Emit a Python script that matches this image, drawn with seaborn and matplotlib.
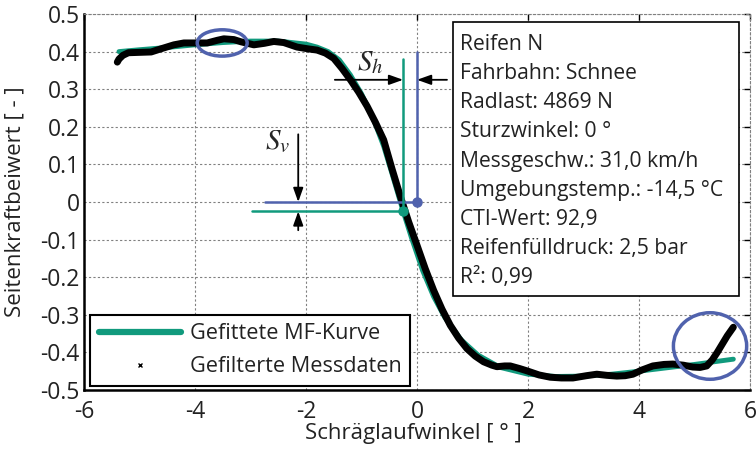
import numpy as np
import pandas as pd
import matplotlib
matplotlib.use("Agg")
import matplotlib.pyplot as plt
from matplotlib.patches import Ellipse, Rectangle
from matplotlib.lines import Line2D
import seaborn as sns

# ---- data ----
mf_x = [-5.37, -5.0, -4.5, -4.0, -3.5, -3.0, -2.5, -2.0, -1.8, -1.6, -1.4, -1.2, -1.0, -0.8, -0.6,
        -0.45, -0.25, -0.1, 0.1, 0.3, 0.5, 0.8, 1.1, 1.5, 2.0, 2.5, 3.0, 3.5, 4.0, 4.5, 5.0, 5.4, 5.7]
mf_y = [0.400, 0.405, 0.411, 0.418, 0.424, 0.428, 0.428, 0.420, 0.412, 0.400, 0.378, 0.338, 0.288,
        0.226, 0.148, 0.075, -0.025, -0.095, -0.182, -0.252, -0.307, -0.367, -0.407, -0.440, -0.458,
        -0.464, -0.463, -0.458, -0.450, -0.441, -0.432, -0.424, -0.418]

meas_x = [-5.40, -5.37, -5.30, -5.20, -5.00, -4.79, -4.60, -4.38, -4.20, -4.02, -3.78, -3.60, -3.48,
          -3.30, -3.17, -2.94, -2.75, -2.58, -2.40, -2.16, -1.95, -1.80, -1.65, -1.50, -1.35, -1.20,
          -1.05, -0.90, -0.75, -0.60, -0.45, -0.30, -0.15, 0.00, 0.15, 0.30, 0.45, 0.60, 0.75, 0.90,
          1.05, 1.20, 1.35, 1.44, 1.58, 1.68, 1.85, 1.98, 2.20, 2.40, 2.60, 2.81, 3.05, 3.24, 3.42,
          3.60, 3.75, 3.89, 4.05, 4.25, 4.45, 4.61, 4.80, 4.97, 5.10, 5.22, 5.32, 5.41, 5.50, 5.59,
          5.70]
meas_y = [0.372, 0.380, 0.390, 0.397, 0.398, 0.399, 0.408, 0.418, 0.423, 0.423, 0.423, 0.430, 0.434,
          0.432, 0.426, 0.418, 0.422, 0.427, 0.424, 0.412, 0.407, 0.404, 0.396, 0.382, 0.355, 0.325,
          0.292, 0.255, 0.212, 0.165, 0.088, 0.015, -0.053, -0.115, -0.178, -0.235, -0.285, -0.328,
          -0.362, -0.390, -0.410, -0.425, -0.434, -0.438, -0.436, -0.436, -0.443, -0.449, -0.460,
          -0.466, -0.468, -0.468, -0.462, -0.458, -0.461, -0.463, -0.462, -0.458, -0.447, -0.436,
          -0.432, -0.431, -0.434, -0.439, -0.440, -0.436, -0.420, -0.400, -0.378, -0.356, -0.333]

shift_h = -0.25   # S_h point (green)
shift_v = -0.025  # S_v point (green)

info_lines = ["Reifen N", "Fahrbahn: Schnee", "Radlast: 4869 N", "Sturzwinkel: 0 °",
              "Messgeschw.: 31,0 km/h", "Umgebungstemp.: -14,5 °C", "CTI-Wert: 92,9",
              "Reifenfülldruck: 2,5 bar", "R²: 0,99"]
legend_labels = ["Gefittete MF-Kurve", "Gefilterte Messdaten"]
x_ticks = [-6, -4, -2, 0, 2, 4, 6]
y_ticks = [-0.5, -0.4, -0.3, -0.2, -0.1, 0, 0.1, 0.2, 0.3, 0.4, 0.5]

# ---- style ----
sns.set_theme(style="white")
plt.rcParams['font.family'] = ['Open Sans', 'DejaVu Sans']
plt.rcParams['axes.unicode_minus'] = False
plt.rcParams['mathtext.fontset'] = 'stix'

GREEN = "#119a7d"
BLUE = "#5062ad"
TXT = "#222222"
FS_TICK = 16.5
FS_LABEL = 16
FS_BOX = 15.2
FS_LEG = 15.6

fig = plt.figure(figsize=(7.56, 4.51), dpi=100)
ax = fig.add_axes([84/756, 1-390/451, 666/756, 376/451])

df_mf = pd.DataFrame({"x": mf_x, "y": mf_y})
df_me = pd.DataFrame({"x": meas_x, "y": meas_y})
sns.lineplot(data=df_mf, x="x", y="y", ax=ax, color=GREEN, lw=3.5, sort=False, zorder=3)
sns.lineplot(data=df_me, x="x", y="y", ax=ax, color="black", lw=5, sort=False, zorder=4,
             solid_joinstyle='round', solid_capstyle='round')

ax.set_xlim(-6, 6)
ax.set_ylim(-0.5, 0.5)
ax.set_xticks(x_ticks)
ax.set_yticks(y_ticks)
ax.set_xticklabels([f"{t:g}" for t in x_ticks], fontsize=FS_TICK, color=TXT)
ax.set_yticklabels([f"{t:g}" for t in y_ticks], fontsize=FS_TICK, color=TXT)
ax.tick_params(direction='in', top=True, right=True, length=4, width=1, color='black')
ax.tick_params(axis='x', pad=7)
ax.tick_params(axis='y', pad=3)
ax.grid(True, linestyle=(0, (2, 2)), color='#808080', lw=0.8)
ax.set_axisbelow(True)
for s in ['left', 'bottom']:
    ax.spines[s].set_color('black')
    ax.spines[s].set_linewidth(1.8)
for s in ['top', 'right']:
    ax.spines[s].set_color('#808080')
    ax.spines[s].set_linewidth(0.8)
    ax.spines[s].set_linestyle((0, (2, 2)))

ax.set_xlabel("Schräglaufwinkel [ ° ]", fontsize=FS_LABEL, color=TXT)
ax.set_ylabel("Seitenkraftbeiwert [ - ]", fontsize=FS_LABEL, color=TXT)
ax.xaxis.set_label_coords((413-84)/666, (390-423)/376)
ax.yaxis.set_label_coords((26-84)/666, 0.5)

# ---- annotation lines ----
ax.plot([-2.74, 0], [0, 0], color=BLUE, lw=1.8, zorder=5)
ax.plot([0, 0], [0, 0.40], color=BLUE, lw=1.8, zorder=5)
ax.plot([0], [0], 'o', color=BLUE, ms=6.5, zorder=6)
ax.plot([-2.97, shift_h], [shift_v, shift_v], color=GREEN, lw=1.8, zorder=5)
ax.plot([shift_h, shift_h], [shift_v, 0.38], color=GREEN, lw=1.8, zorder=5)
ax.plot([shift_h], [shift_v], 'o', color=GREEN, ms=6.5, zorder=6)

ap = dict(arrowstyle='-|>,head_width=0.25,head_length=0.7', lw=1.3, color='black',
          shrinkA=0, shrinkB=0)
ax.annotate('', xy=(shift_h, 0.325), xytext=(-1.48, 0.325), arrowprops=ap, zorder=7)
ax.annotate('', xy=(0, 0.325), xytext=(0.54, 0.325), arrowprops=ap, zorder=7)
ax.annotate('', xy=(-2.14, 0), xytext=(-2.14, 0.18), arrowprops=ap, zorder=7)
ax.annotate('', xy=(-2.14, shift_v), xytext=(-2.14, -0.075), arrowprops=ap, zorder=7)
ax.text(-0.85, 0.37, r"$S_h$", fontsize=21, ha='center', va='center')
ax.text(-2.52, 0.16, r"$S_v$", fontsize=21, ha='center', va='center')

# ---- ellipses ----
ax.add_patch(Ellipse((-3.51, 0.423), 0.9, 0.07, fill=False, ec=BLUE, lw=2.5, zorder=8))
ax.add_patch(Ellipse((5.28, -0.383), 1.32, 0.177, fill=False, ec=BLUE, lw=2.5, zorder=8))

# ---- info box ----
bx0, bx1 = (453-84)/666, (739-84)/666
by0, by1 = (390-296)/376, (390-22)/376
ax.add_patch(Rectangle((bx0, by0), bx1-bx0, by1-by0, transform=ax.transAxes,
                       facecolor='white', edgecolor='black', lw=1.2, zorder=9))
for i, line in enumerate(info_lines):
    py = 44 + i*29.25
    ax.text((460-84)/666, (390-py)/376, line, transform=ax.transAxes, fontsize=FS_BOX,
            ha='left', va='center', zorder=10, color=TXT)

# ---- legend ----
handles = [Line2D([], [], color=GREEN, lw=4.5),
           Line2D([], [], color='black', marker='x', ms=2.5, mew=1, linestyle='none')]
leg = ax.legend(handles, legend_labels, loc='lower left',
                bbox_to_anchor=((90-84)/666, (390-386)/376), fontsize=FS_LEG,
                frameon=True, fancybox=False, edgecolor='black', framealpha=1,
                handlelength=3.8, handletextpad=0.4, borderpad=0.4, labelspacing=0.55,
                borderaxespad=0)
for t in leg.get_texts():
    t.set_color(TXT)
leg.get_frame().set_linewidth(1.5)
leg.set_zorder(11)

fig.savefig("out.png", dpi=100)
